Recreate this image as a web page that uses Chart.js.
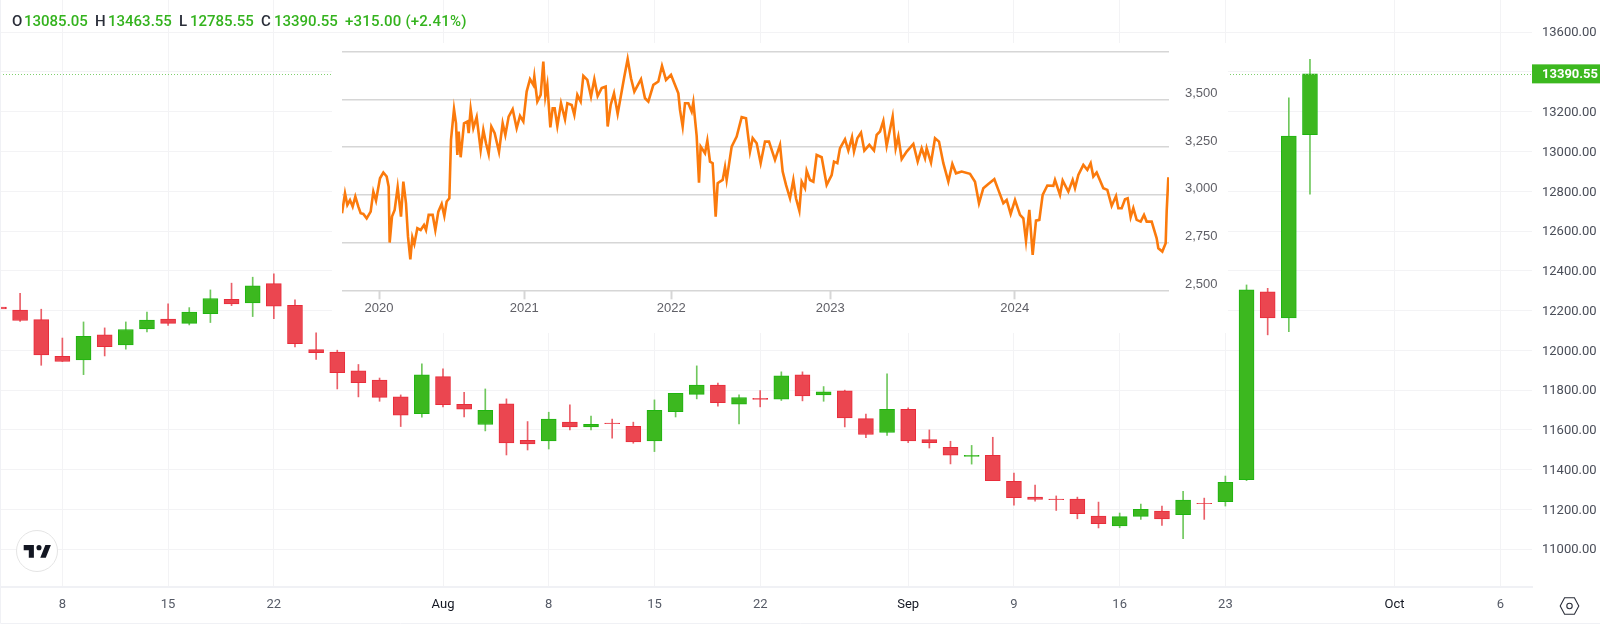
<!DOCTYPE html>
<html>
<head>
<meta charset="utf-8">
<script src="https://cdn.jsdelivr.net/npm/chart.js@4"></script>
<style>
    html, body { margin: 0; padding: 0; background: #fff; overflow: hidden; }
    #wrap { position: relative; width: 1600px; height: 627px; font-family: Roboto, sans-serif; }
    #priceChart { position: absolute; left: 0; top: 0; }
    #oilChart { position: absolute; left: 332px; top: 43px; background: #fff; }
    .ohlc { position: absolute; top: 12px; font-size: 15px; font-weight: 500; line-height: 18px; white-space: nowrap; color: #34b31e; }
    .ohlc.k { color: #2a2e39; }
    #logo { position: absolute; left: 15.5px; top: 529.5px; width: 40px; height: 40px; border: 1.5px solid #e4e4e4; border-radius: 50%; background: #fff; }
    #logo svg { position: absolute; left: 5px; top: 9px; }
    #gear { position: absolute; left: 1559px; top: 596px; }
</style>
</head>
<body>
<div id="wrap">
    <canvas id="priceChart" width="1600" height="627"></canvas>
    <canvas id="oilChart" width="896" height="290"></canvas>

    <span class="ohlc k" style="left:12px">O</span><span class="ohlc" style="left:24px">13085.05</span>
    <span class="ohlc k" style="left:95px">H</span><span class="ohlc" style="left:108px">13463.55</span>
    <span class="ohlc k" style="left:179px">L</span><span class="ohlc" style="left:190px">12785.55</span>
    <span class="ohlc k" style="left:261px">C</span><span class="ohlc" style="left:274px">13390.55</span>
    <span class="ohlc" style="left:345px;letter-spacing:0.2px">+315.00 (+2.41%)</span>

    <div id="logo">
        <svg width="30.6" height="23.8" viewBox="0 0 36 28"><path fill="#131722" d="M14 6H2v6h6v9h6V6zm14 15h-6.5l6-15H34l-6 15zM20 6a3 3 0 1 1 0 6 3 3 0 0 1 0-6z"/></svg>
    </div>
    <svg id="gear" width="21" height="20" viewBox="0 0 21 20">
        <path fill="none" stroke="#2a2e39" stroke-width="1.1" d="M1.2 10 L5.6 1.8 H15.4 L19.8 10 L15.4 18.2 H5.6 Z"/>
        <circle cx="10.5" cy="10" r="2.7" fill="none" stroke="#2a2e39" stroke-width="1.1"/>
    </svg>
</div>

<script>
// daily candles, index 0 = 3 Jul
const candleOpen = [12218, 12202, 12155, 11970, 11952, 12078, 12027, 12108, 12157, 12136, 12185, 12257, 12239, 12336, 12227, 12004, 11992, 11897, 11851, 11766, 11682, 11868, 11729, 11627, 11731, 11548, 11545, 11640, 11615, 11634, 11618, 11545, 11692, 11779, 11825, 11729, 11759, 11754, 11877, 11776, 11796, 11657, 11587, 11704, 11551, 11513, 11467, 11472, 11341, 11262, 11252, 11252, 11167, 11117, 11165, 11192, 11174, 11231, 11239, 11350, 12294, 12163, 13085];
const candleHigh = [12220, 12287, 12207, 12062, 12143, 12113, 12143, 12193, 12234, 12215, 12304, 12338, 12368, 12385, 12254, 12088, 12001, 11929, 11861, 11776, 11932, 11907, 11789, 11806, 11756, 11642, 11689, 11726, 11670, 11655, 11639, 11751, 11784, 11922, 11835, 11776, 11798, 11892, 11892, 11818, 11800, 11680, 11882, 11711, 11600, 11543, 11522, 11563, 11383, 11323, 11268, 11262, 11237, 11182, 11227, 11217, 11291, 11257, 11368, 12329, 12312, 13270, 13463.55];
const candleLow = [12206, 12145, 11925, 11944, 11878, 11972, 12006, 12093, 12125, 12128, 12140, 12225, 12170, 12160, 12017, 11955, 11806, 11766, 11744, 11617, 11664, 11716, 11665, 11595, 11474, 11499, 11504, 11600, 11600, 11558, 11533, 11491, 11665, 11756, 11719, 11630, 11716, 11748, 11746, 11744, 11615, 11561, 11572, 11536, 11509, 11429, 11428, 11345, 11222, 11242, 11195, 11153, 11107, 11108, 11150, 11120, 11053, 11150, 11217, 11345, 12078, 12094, 12785.55];
const candleClose = [12208, 12150, 11977, 11944, 12071, 12019, 12105, 12152, 12136, 12192, 12261, 12234, 12324, 12222, 12034, 11989, 11888, 11838, 11764, 11674, 11877, 11727, 11704, 11699, 11535, 11530, 11654, 11615, 11628, 11632, 11540, 11699, 11784, 11825, 11737, 11763, 11753, 11872, 11771, 11791, 11660, 11577, 11704, 11545, 11536, 11473, 11472, 11345, 11259, 11251, 11249, 11179, 11128, 11164, 11200, 11153, 11247, 11229, 11336, 12304, 12163, 13078, 13390.55];

const lastClose = 13390.55;
const priceTicks = [11000, 11200, 11400, 11600, 11800, 12000, 12200, 12400, 12600, 12800, 13000, 13200, 13400, 13600];
const dayTicks = [3, 8, 13, 21, 26, 31, 36, 43, 48, 53, 58, 66, 71];
const dayLabels = ['8', '15', '22', 'Aug', '8', '15', '22', 'Sep', '9', '16', '23', 'Oct', '6'];

// inset line
const oilTime = [0, 9, 16, 24, 32, 40, 49, 56, 64, 74, 86, 94, 102, 114, 124, 134, 140, 143, 150, 158, 167, 177, 184, 192, 198, 205, 211, 217, 226, 236, 246, 252, 260, 272, 280, 289, 299, 307, 314, 322, 327, 336, 342, 346, 350, 356, 366, 376, 380, 386, 394, 404, 416, 424, 432, 440, 448, 458, 471, 482, 490, 500, 512, 524, 534, 544, 554, 564, 574, 577, 586, 596, 604, 610, 616, 625, 632, 638, 646, 657, 669, 676, 689, 697, 706, 716, 724, 736, 747, 757, 767, 779, 791, 797, 806, 816, 827, 839, 847, 857, 867, 877, 897, 909, 919, 934, 949, 960, 972, 987, 997, 1009, 1014, 1022, 1029, 1039, 1049, 1054, 1064, 1071, 1076, 1089, 1096, 1104, 1112, 1121, 1127, 1134, 1142, 1149, 1154, 1169, 1184, 1199, 1212, 1224, 1232, 1244, 1256, 1269, 1281, 1299, 1314, 1322, 1332, 1344, 1354, 1362, 1372, 1379, 1389, 1394, 1404, 1414, 1424, 1439, 1454, 1469, 1476, 1486, 1494, 1509, 1519, 1530, 1536, 1546, 1557, 1567, 1582, 1596, 1604, 1614, 1624, 1634, 1652, 1661, 1669, 1679, 1694, 1714, 1727, 1739, 1749, 1754, 1767, 1779, 1791, 1804, 1819, 1831, 1842, 1859, 1884, 1899, 1911, 1924, 1939, 1957, 1969, 1984, 1994, 2006, 2019, 2034, 2044, 2052, 2062, 2072, 2082, 2092, 2102, 2116, 2134, 2139, 2154, 2162, 2179, 2192, 2199, 2209, 2224, 2236, 2246, 2254, 2264, 2284, 2296, 2309, 2322, 2329, 2339, 2349, 2357, 2366, 2374, 2384, 2396, 2406, 2414, 2429, 2444, 2449, 2461, 2471, 2474, 2479];
const oilPrice = [2904, 3008, 2947, 2973, 2938, 2991, 2938, 2904, 2900, 2877, 2912, 3017, 2970, 3087, 3117, 3096, 3043, 2750, 2886, 2921, 3040, 2886, 3069, 2956, 2781, 2662, 2778, 2743, 2825, 2816, 2842, 2816, 2895, 2895, 2816, 2912, 2952, 2890, 2965, 2982, 3288, 3449, 3375, 3209, 3332, 3197, 3375, 3384, 3323, 3449, 3349, 3407, 3235, 3340, 3270, 3214, 3358, 3323, 3225, 3375, 3314, 3410, 3449, 3349, 3414, 3384, 3541, 3606, 3576, 3620, 3489, 3524, 3698, 3515, 3576, 3354, 3454, 3454, 3361, 3480, 3396, 3480, 3471, 3419, 3524, 3489, 3623, 3602, 3515, 3606, 3518, 3559, 3567, 3358, 3471, 3532, 3424, 3541, 3620, 3712, 3611, 3541, 3606, 3506, 3489, 3576, 3594, 3676, 3602, 3629, 3585, 3532, 3445, 3358, 3480, 3480, 3436, 3485, 3309, 3064, 3253, 3218, 3284, 3174, 3166, 2886, 3061, 3070, 3078, 3145, 3078, 3253, 3305, 3407, 3401, 3227, 3297, 3270, 3166, 3279, 3279, 3183, 3262, 3122, 3052, 2982, 3078, 2982, 2917, 3069, 3035, 3127, 3078, 3069, 3209, 3197, 3052, 3104, 3174, 3166, 3244, 3291, 3232, 3302, 3227, 3297, 3326, 3232, 3262, 3232, 3314, 3332, 3387, 3256, 3410, 3244, 3305, 3187, 3227, 3267, 3174, 3244, 3192, 3244, 3169, 3297, 3279, 3166, 3069, 3162, 3113, 3122, 3110, 3069, 2956, 3035, 3057, 3082, 3026, 2956, 2973, 2900, 2973, 2895, 2877, 2759, 2921, 2685, 2865, 2869, 3000, 3049, 3047, 3078, 3000, 3075, 3017, 3078, 3035, 3104, 3157, 3131, 3166, 3096, 3117, 3035, 3026, 2942, 2994, 2930, 2930, 2977, 2982, 2883, 2930, 2869, 2860, 2895, 2860, 2860, 2772, 2720, 2703, 2746, 2912, 3092];
const oilYTicks = [2500, 2750, 3000, 3250, 3500, 3750];
const oilYearTicks = [111, 547, 988, 1465, 2018];
const oilYearLabels = ['2020', '2021', '2022', '2023', '2024'];

const UP_FILL = '#3cb81f';
const UP_LINE = '#1fb410';
const UP_WICK = '#6fc75c';
const DOWN_FILL = '#eb4650';
const DOWN_LINE = '#e92c3a';
const DOWN_WICK = '#ea5f68';
const GRID = '#f3f3f5';

const isUp = (i) => candleClose[i] >= candleOpen[i];

// chart.js adds room for half a tick label at the ends, the areas here are exact
const noEndPadding = (s) => {
    s.paddingTop = 0;
    s.paddingBottom = 0;
    s.paddingLeft = 0;
    s.paddingRight = 0;
};

const priceMarker = {
    id: 'priceMarker',
    afterDatasetsDraw(chart) {
        const c = chart.ctx;
        const y = chart.scales.y.getPixelForValue(lastClose);
        const area = chart.chartArea;
        c.save();
        c.strokeStyle = '#7fcf6e';
        c.setLineDash([1, 2]);
        c.lineWidth = 1;
        c.beginPath();
        c.moveTo(0, Math.round(y) + 0.5);
        c.lineTo(area.right, Math.round(y) + 0.5);
        c.stroke();
        c.restore();
    },
    afterDraw(chart) {
        const c = chart.ctx;
        const y = chart.scales.y.getPixelForValue(lastClose);
        const area = chart.chartArea;
        c.save();
        // outer frame
        c.strokeStyle = '#f0f1f5';
        c.lineWidth = 1;
        c.beginPath();
        c.moveTo(0.5, 0);
        c.lineTo(0.5, 623.5);
        c.lineTo(1600, 623.5);
        c.stroke();
        // last price tag
        c.fillStyle = UP_FILL;
        c.fillRect(area.right, y - 9.5, 1600 - area.right, 19);
        c.fillStyle = '#fff';
        c.font = '700 13px Roboto';
        c.textBaseline = 'middle';
        c.fillText(lastClose.toFixed(2), area.right + 10, y + 1);
        c.restore();
    }
};

new Chart(document.getElementById('priceChart'), {
    type: 'bar',
    data: {
        datasets: [{
            label: 'wick',
            data: candleOpen.map((o, i) => ({ x: i, y: [candleLow[i], candleHigh[i]] })),
            backgroundColor: candleOpen.map((o, i) => isUp(i) ? UP_WICK : DOWN_WICK),
            barThickness: 1,
            grouped: false,
            order: 2,
        }, {
            label: 'body',
            data: candleOpen.map((o, i) => ({ x: i, y: [o, candleClose[i]] })),
            backgroundColor: candleOpen.map((o, i) => isUp(i) ? UP_FILL : DOWN_FILL),
            borderColor: candleOpen.map((o, i) => isUp(i) ? UP_LINE : DOWN_LINE),
            borderWidth: 1,
            borderSkipped: false,
            barThickness: 15,
            grouped: false,
            order: 1,
        }]
    },
    options: {
        responsive: false,
        animation: false,
        layout: { padding: 0 },
        plugins: { legend: { display: false }, tooltip: { enabled: false } },
        scales: {
            x: {
                type: 'linear',
                min: 0.05,
                max: 72.5,
                offset: false,
                afterBuildTicks: (s) => { s.ticks = dayTicks.map((v) => ({ value: v })); },
                afterFit: (s) => { s.height = 40; noEndPadding(s); },
                grid: { color: GRID, drawTicks: false, offset: false },
                border: { color: '#f0f1f5', width: 2 },
                ticks: {
                    autoSkip: false,
                    maxRotation: 0,
                    padding: 10,
                    font: { family: 'Roboto', size: 13 },
                    color: (t) => dayLabels[t.index].length === 3 ? '#131722' : '#555a66',
                    callback: (v, i) => dayLabels[i],
                },
            },
            y: {
                position: 'right',
                min: 10810,
                max: 13762,
                afterBuildTicks: (s) => { s.ticks = priceTicks.map((v) => ({ value: v })); },
                afterFit: (s) => { s.width = 68; noEndPadding(s); },
                grid: { color: GRID, drawTicks: false },
                border: { display: false },
                ticks: {
                    autoSkip: false,
                    padding: 10,
                    labelOffset: 1,
                    font: { family: 'Roboto', size: 13 },
                    color: '#4a4e59',
                    callback: (v) => v === 13400 ? '' : v.toFixed(2),
                },
            },
        },
    },
    plugins: [priceMarker],
});

new Chart(document.getElementById('oilChart'), {
    type: 'line',
    data: {
        datasets: [{
            data: oilTime.map((t, i) => ({ x: t, y: oilPrice[i] })),
            borderColor: '#fb7a0c',
            borderWidth: 2.6,
            pointRadius: 0,
            tension: 0,
        }]
    },
    options: {
        responsive: false,
        animation: false,
        layout: { padding: { left: 10, top: 8.7 } },
        plugins: { legend: { display: false }, tooltip: { enabled: false } },
        scales: {
            x: {
                type: 'linear',
                min: 0,
                max: 2481,
                afterBuildTicks: (s) => { s.ticks = oilYearTicks.map((v) => ({ value: v })); },
                afterFit: (s) => { s.height = 42.7; noEndPadding(s); },
                grid: { drawOnChartArea: false, tickLength: 9, tickColor: '#d6d6d6', tickWidth: 2 },
                border: { display: false },
                ticks: {
                    autoSkip: false,
                    maxRotation: 0,
                    padding: 1,
                    font: { family: 'Liberation Sans', size: 13 },
                    color: '#5f5f66',
                    callback: (v, i) => oilYearLabels[i],
                },
            },
            y: {
                position: 'right',
                min: 2500,
                max: 3750,
                afterBuildTicks: (s) => { s.ticks = oilYTicks.map((v) => ({ value: v })); },
                afterFit: (s) => { s.width = 59; noEndPadding(s); },
                grid: { color: '#d6d6d6', lineWidth: 1.5, drawTicks: false },
                border: { display: false },
                ticks: {
                    autoSkip: false,
                    padding: 16,
                    labelOffset: -6,
                    font: { family: 'Liberation Sans', size: 13 },
                    color: '#5f5f66',
                    callback: (v) => v === 3750 ? '' : v.toLocaleString('en-US'),
                },
            },
        },
    },
});
</script>
</body>
</html>
